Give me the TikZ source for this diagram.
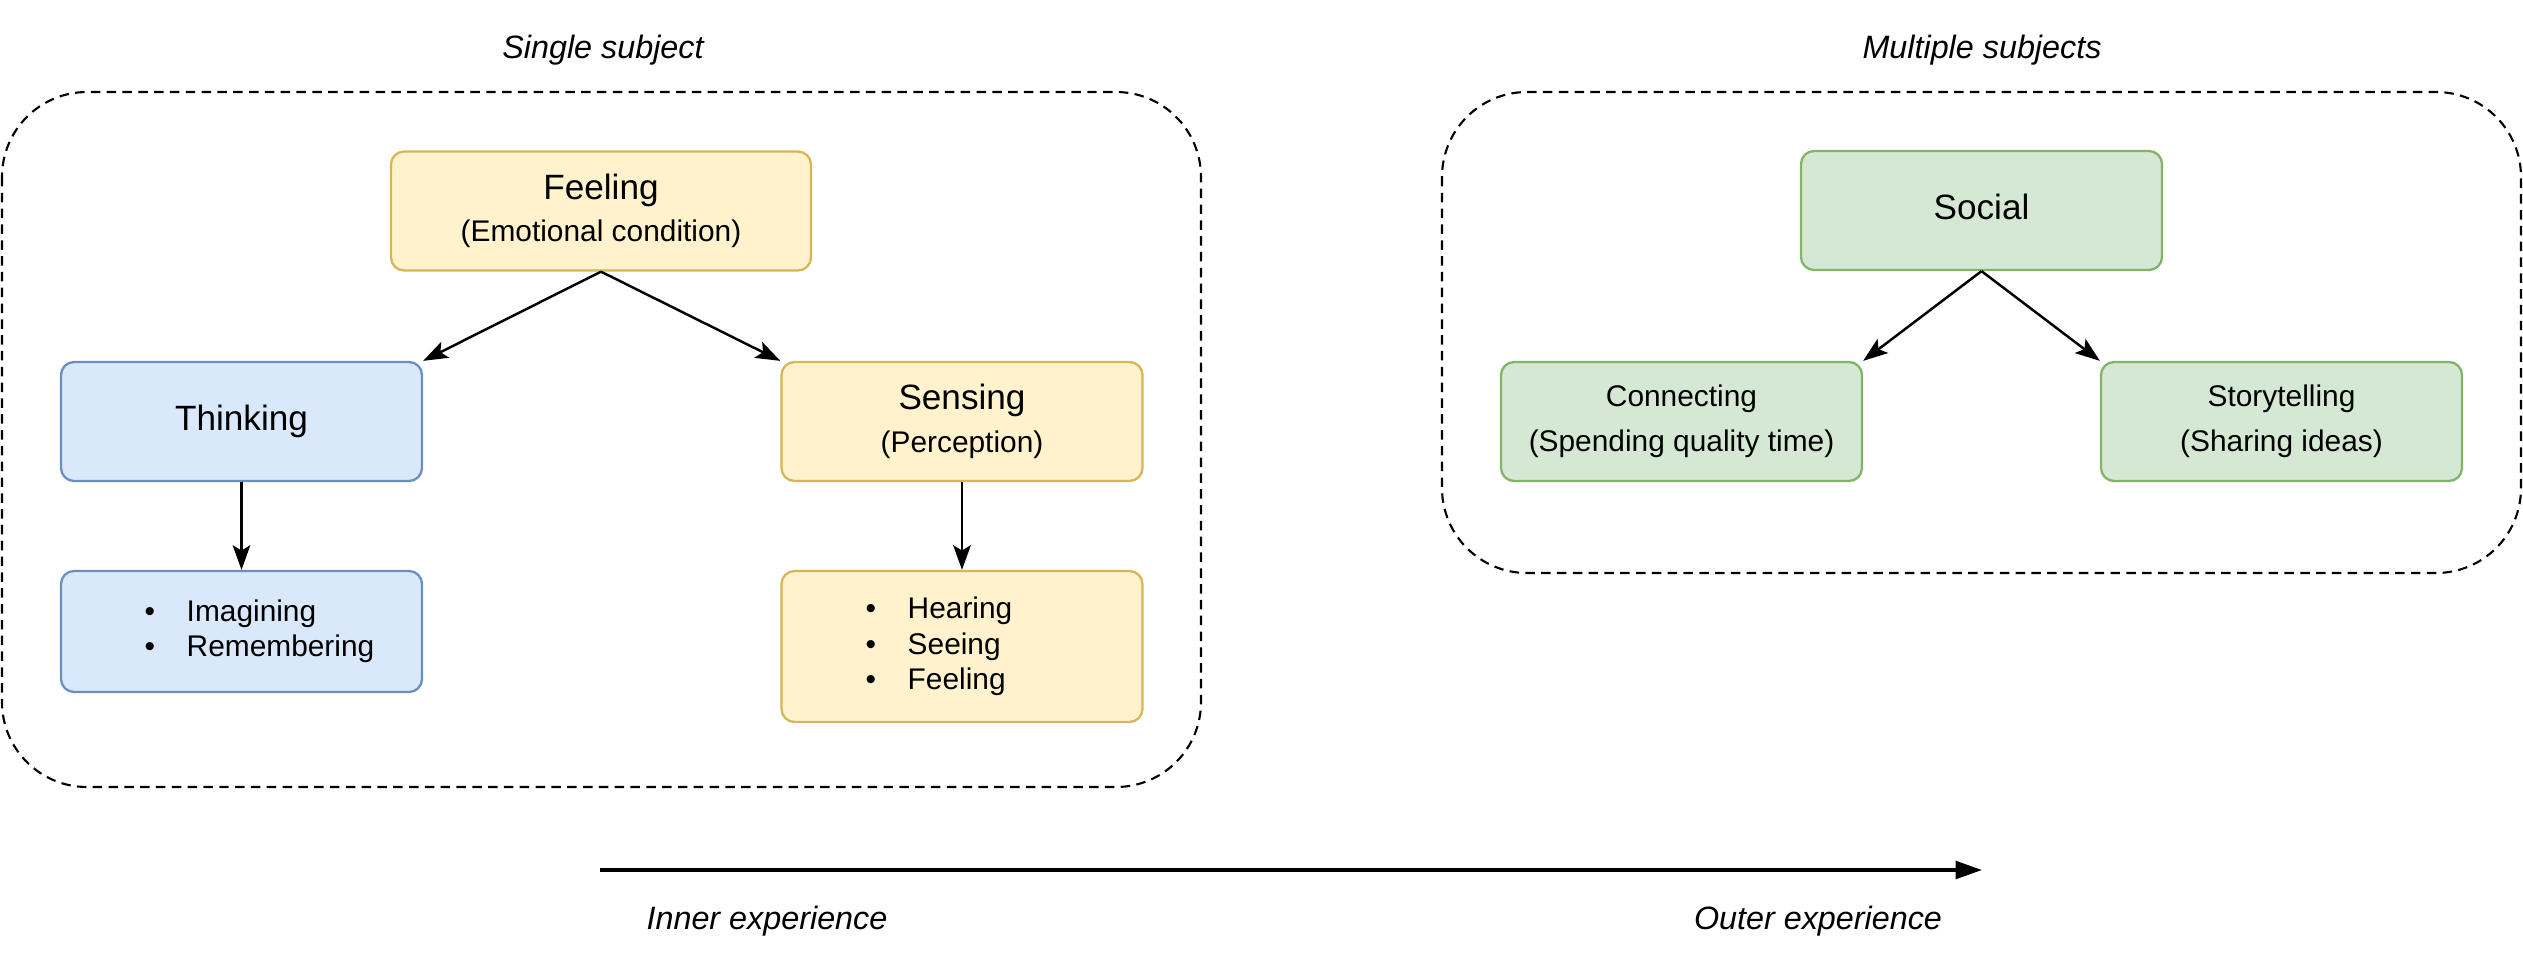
\documentclass[tikz,border=0pt]{standalone}
\usepackage{fontspec}
\setmainfont{Liberation Sans}
\usetikzlibrary{arrows.meta}
\definecolor{blueline}{HTML}{6C8EBF}
\definecolor{bluefill}{HTML}{DAE8FC}
\definecolor{yellowline}{HTML}{D6B656}
\definecolor{yellowfill}{HTML}{FFF2CC}
\definecolor{greenline}{HTML}{82B366}
\definecolor{greenfill}{HTML}{D5E8D4}
\newcommand{\lstrut}{\rule[-0.22em]{0pt}{0.94em}}
\newcommand{\bigline}[1]{{\fontsize{10}{12.2}\selectfont\lstrut #1}}
\newcommand{\bulletline}[1]{\lstrut\textbullet\hspace{9pt}#1}
\tikzset{
  font=\fontsize{8.5}{10.2}\selectfont,
  box/.style = {
    draw,
    rounded corners=3.7pt,
    line width=0.65pt,
    minimum width=3.61cm,
    minimum height=1.19cm,
    align=center,
    inner sep=0pt
  },
  twolines/.style = {font=\fontsize{8.5}{#1}\selectfont},
  twolines/.default = 12.2pt,
  list/.style = {align=left, font=\fontsize{8.5}{10.1}\selectfont},
  bluebox/.style = {box, draw=blueline, fill=bluefill},
  yellowbox/.style = {box, draw=yellowline, fill=yellowfill},
  greenbox/.style = {box, draw=greenline, fill=greenfill},
  group/.style = {
    draw,
    line width=0.6pt,
    dash pattern=on 2.7pt off 1.8pt,
    rounded corners=0.85cm
  },
  link/.style = {-{Stealth[length=7pt, width=5pt, inset=1.5pt]}, line width=0.7pt},
  caption/.style = {font=\fontsize{9.2}{11}\selectfont\itshape}
}

\begin{document}
\begin{tikzpicture}[x=0.1mm,y=-0.1mm]

      \useasboundingbox (0,0) rectangle (2523,960);

      % single subject
      \draw[group] (2,92) rectangle (1201,787);
      \node[caption] (single) at (603,50) {Single subject};

      \node[yellowbox, twolines, minimum width=4.2cm] (feeling) at (601,211) {\bigline{Feeling}\\\lstrut(Emotional condition)};
      \node[bluebox] (thinking) at (241.5,421.5) {\bigline{Thinking}};
      \node[yellowbox, twolines] (sensing) at (962,421.5) {\bigline{Sensing}\\\lstrut(Perception)};
      \node[bluebox, list, minimum height=1.21cm] (imagining) at (241.5,631.5) {\hspace*{0.36cm}\bulletline{Imagining}\\\hspace*{0.36cm}\bulletline{Remembering}};
      \node[yellowbox, list, minimum height=1.51cm] (hearing) at (962,646.5) {\bulletline{Hearing}\hspace*{0.46cm}\\\bulletline{Seeing}\\\bulletline{Feeling}};

      \draw[link] (feeling.south) -- (thinking.north east);
      \draw[link] (feeling.south) -- (sensing.north west);
      \draw[link] (thinking) -- (imagining);
      \draw[link] (sensing) -- (hearing);

      % multiple subjects
      \draw[group] (1442,92) rectangle (2521,573);
      \node[caption] (multiple) at (1982,50) {Multiple subjects};

      \node[greenbox] (social) at (1981.5,210.5) {\bigline{Social}};
      \node[greenbox, twolines=12.8pt] (connecting) at (1681.5,421.5) {\lstrut Connecting\\\lstrut(Spending quality time)};
      \node[greenbox, twolines=12.8pt] (storytelling) at (2281.5,421.5) {\lstrut Storytelling\\\lstrut(Sharing ideas)};

      \draw[link] (social.south) -- (connecting.north east);
      \draw[link] (social.south) -- (storytelling.north west);

      % inner to outer
      \coordinate (a1) at (600,870);
      \coordinate (a2) at (1982,870);
      \draw[-{Triangle[length=7.5pt, width=5pt]}, line width=1pt] (a1) -- (a2);
      \node[caption] (inner) at (767,921) {Inner experience};
      \node[caption] (outer) at (1818,921) {Outer experience};

    \end{tikzpicture}
\end{document}
